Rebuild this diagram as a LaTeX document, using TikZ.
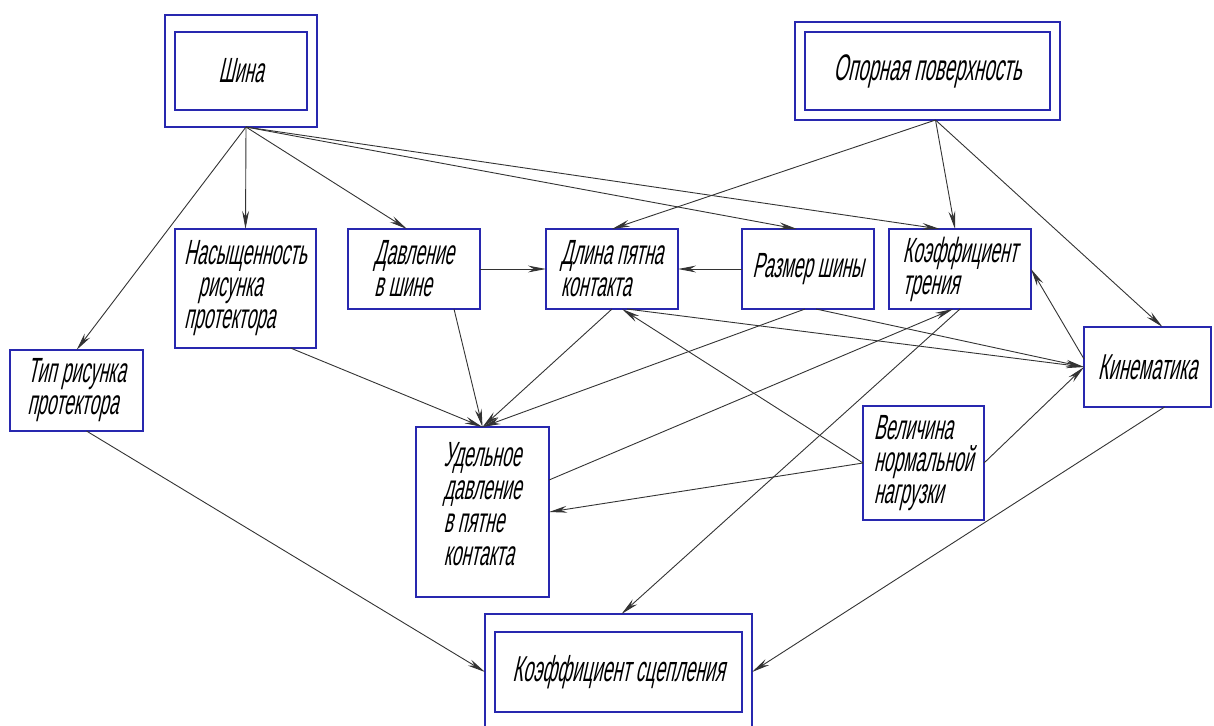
\documentclass[tikz,border=0pt]{standalone}
\usepackage{fontspec}
\setmainfont{Liberation Sans}[FakeStretch=0.5,FakeSlant=0.22]
\usepackage{tikz}
\usetikzlibrary{calc}
\usetikzlibrary{fit}
\usetikzlibrary{arrows.meta}
\tikzset{>={Stealth[length=9pt,width=3.4pt]}}
\definecolor{boxblue}{RGB}{40,40,175}
\tikzset{block/.style = {shape=rectangle, draw=boxblue, line width=1.4pt,
align=left, inner sep=0pt, outer sep=0pt, font=\fontsize{17.5}{16}\selectfont}}
\tikzset{bigblock/.style = {block, font=\fontsize{18}{17}\selectfont}}
\tikzset{outerbox/.style = {shape=rectangle, draw=boxblue, line width=1.4pt,
outer sep=0pt}}
\tikzset{link/.style = {->, draw=black!80, line width=0.45pt}}

\begin{document}
\begin{tikzpicture}[x=0.5pt,y=-0.5pt]
                \useasboundingbox (0,0) rectangle (1214,725);

                % main factors
                \node[block, minimum width=66pt, minimum height=39pt] (shina) at (241,71) {Шина};
                \node[outerbox, fit=(shina), inner xsep=5pt, inner ysep=8.5pt] (shinaf) {};
                \node[bigblock, font=\fontsize{18.5}{17}\selectfont, minimum width=122.5pt, minimum height=39pt] (opora) at (927.5,71) {Опорная поверхность};
                \node[outerbox, fit=(opora), inner sep=5pt] (oporaf) {};

                \node[block, minimum width=66.5pt, minimum height=40.5pt] (tip) at (76.5,390.5) {Тип рисунка\\протектора};
                \node[block, minimum width=70.5pt, minimum height=59.5pt] (nas) at (245.5,288.5) {Насыщенность\\\hspace{0.4em}рисунка\\протектора};
                \node[block, minimum width=66pt, minimum height=40pt] (davl) at (414,269) {Давление\\в шине};
                \node[block, minimum width=66pt, minimum height=40pt] (dlina) at (612,269) {Длина пятна\\контакта};
                \node[block, minimum width=66pt, minimum height=40pt] (razmer) at (808,269) {Размер шины};
                \node[block, minimum width=71pt, minimum height=40pt] (trenie) at (960,269) {Коэффициент\\трения};
                \node[bigblock, minimum width=63.5pt, minimum height=40pt] (kin) at (1147.5,367) {Кинематика};
                \node[block, font=\fontsize{17.5}{16.5}\selectfont, minimum width=66.5pt, minimum height=85pt, text depth=8pt] (udel) at (482.5,512) {Удельное\\давление\\в пятне\\контакта};
                \node[block, minimum width=60.5pt, minimum height=57pt] (velich) at (923.5,463) {Величина\\нормальной\\нагрузки};

                \node[bigblock, minimum width=123.5pt, minimum height=40pt] (scep) at (618.5,672) {Коэффициент сцепления};
                \node[outerbox, fit=(scep), inner xsep=5pt, inner ysep=9pt] (scepf) {};

                % from Shina
                \draw[link] ($(shinaf.south)+(5,0)$) to (tip.north);
                \draw[link] ($(shinaf.south)+(5,0)$) to (nas.north);
                \draw[link] ($(shinaf.south)+(5,0)$) to ($(davl.north)+(-7,0)$);
                \draw[link] ($(shinaf.south)+(5,0)$) to ($(razmer.north)+(-11,0)$);
                \draw[link] ($(shinaf.south)+(5,0)$) to ($(trenie.north)+(-20,0)$);

                % from the road surface
                \draw[link] ($(oporaf.south)+(8,0)$) to (dlina.north);
                \draw[link] ($(oporaf.south)+(8,0)$) to ($(trenie.north)+(-5,0)$);
                \draw[link] ($(oporaf.south)+(8,0)$) to ($(kin.north)+(15,0)$);

                \draw[link] (davl.east) to (dlina.west);
                \draw[link] (razmer.west) to (dlina.east);

                \draw[link] ($(nas.south)+(45,0)$) to (udel.north);
                \draw[link] ($(davl.south)+(40,0)$) to (udel.north);
                \draw[link] (dlina.south) to (udel.north);
                \draw[link] ($(razmer.south)+(-3,0)$) to (udel.north);

                \draw[link] ($(dlina.south)+(15,0)$) to (kin.west);
                \draw[link] ($(razmer.south)+(8,0)$) to (kin.west);
                \draw[link] ($(kin.north west)!0.4!(kin.south west)$) to (trenie.east);
                \draw[link] (velich.east) to (kin.west);

                \draw[link] (velich.west) to ($(dlina.south)+(10,0)$);
                \draw[link] (velich.west) to (udel.east);
                \draw[link] ($(udel.east)+(0,-32)$) to ($(trenie.south)+(-7,0)$);

                % to the adhesion coefficient
                \draw[link] (trenie.south) to ($(scepf.north)+(3,0)$);
                \draw[link] ($(kin.south)+(17,0)$) to (scepf.east);
                \draw[link] ($(tip.south)+(10,0)$) to (scepf.west);
            \end{tikzpicture}
\end{document}
